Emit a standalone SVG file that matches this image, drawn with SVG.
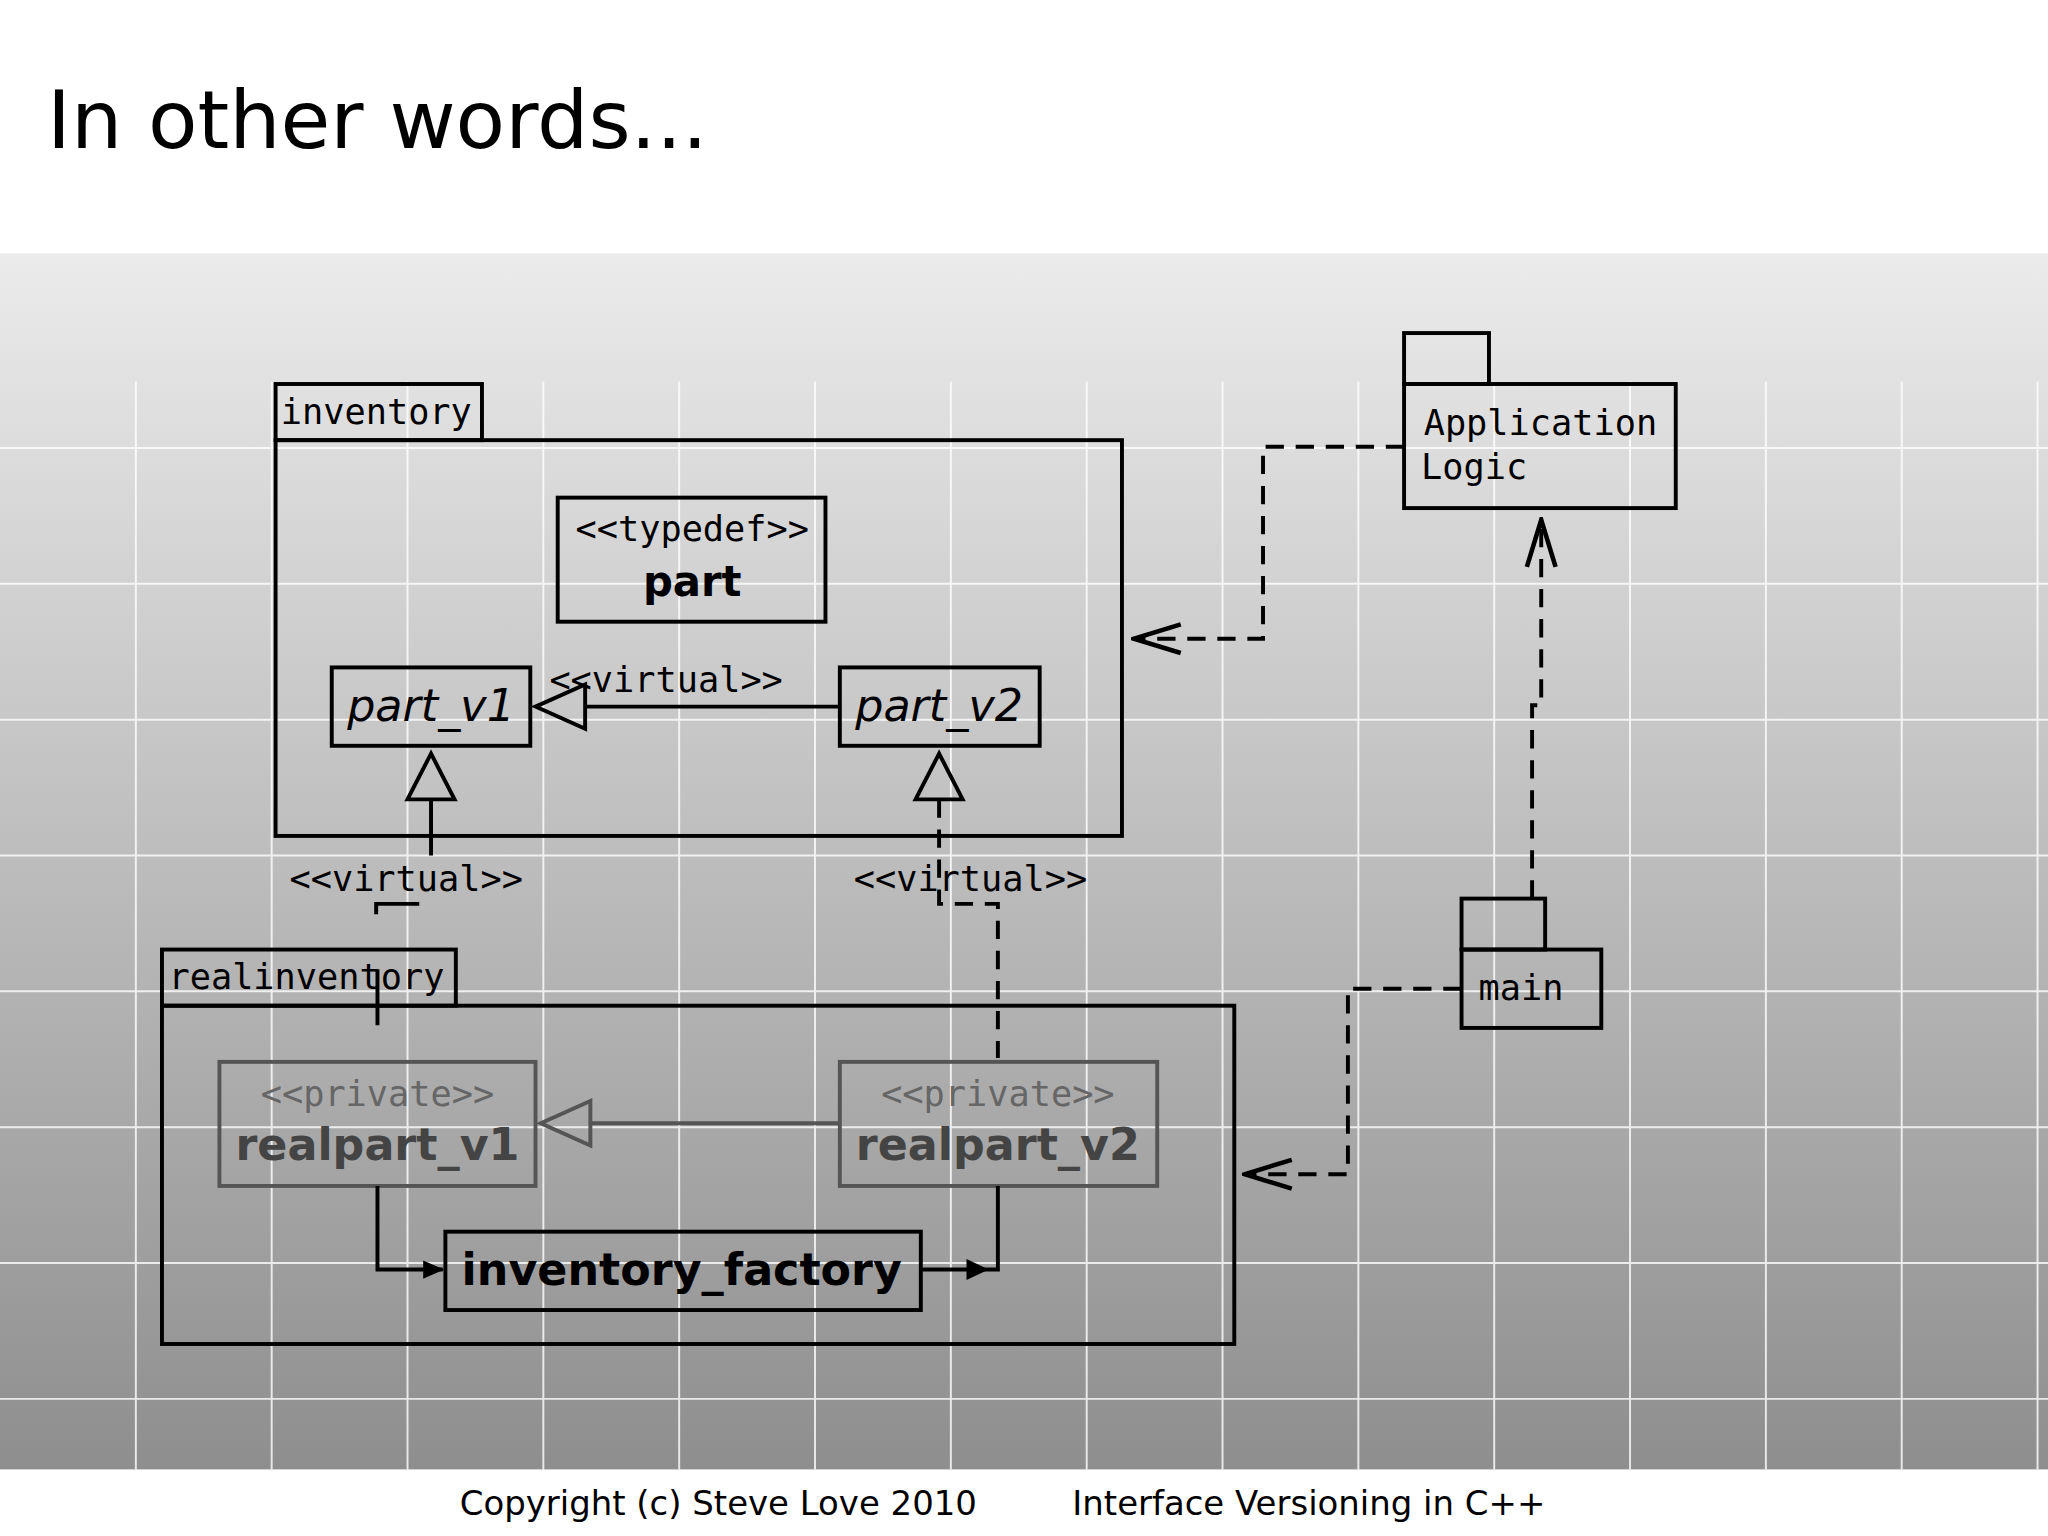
<svg xmlns="http://www.w3.org/2000/svg" width="2048" height="1536" viewBox="0 0 2048 1536">
<defs>
<linearGradient id="bg" x1="0" y1="0" x2="0" y2="1"><stop offset="0" stop-color="#ebebeb"/><stop offset="1" stop-color="#8e8e8e"/></linearGradient>
<marker id="open" viewBox="0 0 40 30" refX="38" refY="15" markerWidth="40" markerHeight="30" markerUnits="userSpaceOnUse" orient="auto"><path d="M2,4 L38,15 L2,26" fill="none" stroke="#000" stroke-width="3.5"/></marker>
<marker id="fill" viewBox="0 0 16 16" refX="15" refY="8" markerWidth="16" markerHeight="16" markerUnits="userSpaceOnUse" orient="auto"><path d="M0,1 L16,8 L0,15 Z" fill="#000"/></marker>
</defs>
<style>
.b{fill:none;stroke:#000;stroke-width:3}
.g{fill:none;stroke:#555;stroke-width:3}
.d{fill:none;stroke:#000;stroke-width:3;stroke-dasharray:14,9}
.m{font-family:"DejaVu Sans Mono",monospace;font-size:27px;fill:#000}
.s{font-family:"DejaVu Sans",sans-serif}
.grid{stroke:#fff;stroke-width:1.5;opacity:0.8}
</style>
<rect width="2048" height="1536" fill="#fff"/>
<g transform="scale(1.30612)">
<text x="36" y="113" class="s" font-size="62">In other words...</text>
<rect x="0" y="194" width="1568" height="931" fill="url(#bg)"/>
<g class="grid">
<path d="M104,292V1125M208,292V1125M312,292V1125M416,292V1125M520,292V1125M624,292V1125M728,292V1125M832,292V1125M936,292V1125M1040,292V1125M1144,292V1125M1248,292V1125M1352,292V1125M1456,292V1125M1560,292V1125"/>
<path d="M0,343H1568M0,447H1568M0,551H1568M0,655H1568M0,759H1568M0,863H1568M0,967H1568M0,1071H1568"/>
</g>
<g id="inventory">
<rect x="211" y="294" width="158" height="43" class="b"/>
<text x="215" y="325" class="m">inventory</text>
<rect x="211" y="337" width="648" height="303" class="b"/>
</g>
<g id="part">
<rect x="427" y="381" width="205" height="95" class="b"/>
<text x="530" y="414" class="m" text-anchor="middle">&lt;&lt;typedef&gt;&gt;</text>
<text x="530" y="456" class="s" font-size="32" font-weight="bold" text-anchor="middle">part</text>
</g>
<g id="part_v1">
<rect x="254" y="511" width="152" height="60" class="b"/>
<text x="330" y="552" class="s" font-size="34" font-style="italic" text-anchor="middle">part_v1</text>
</g>
<g id="part_v2">
<rect x="643" y="511" width="153" height="60" class="b"/>
<text x="719" y="552" class="s" font-size="34" font-style="italic" text-anchor="middle">part_v2</text>
</g>
<g id="realinventory">
<rect x="124" y="727" width="225" height="43" class="b"/>
<text x="129" y="757" class="m">realinventory</text>
<rect x="124" y="770" width="821" height="259" class="b"/>
</g>
<g id="realpart_v1">
<rect x="168" y="813" width="242" height="95" class="g"/>
<text x="289" y="847" class="m" style="fill:#666" text-anchor="middle">&lt;&lt;private&gt;&gt;</text>
<text x="289" y="888" class="s" font-size="34" font-weight="bold" fill="#444" text-anchor="middle">realpart_v1</text>
</g>
<g id="realpart_v2">
<rect x="643" y="813" width="243" height="95" class="g"/>
<text x="764" y="847" class="m" style="fill:#666" text-anchor="middle">&lt;&lt;private&gt;&gt;</text>
<text x="764" y="888" class="s" font-size="34" font-weight="bold" fill="#444" text-anchor="middle">realpart_v2</text>
</g>
<g id="inventory_factory">
<rect x="341" y="943" width="364" height="60" class="b"/>
<text x="522" y="984" class="s" font-size="34" font-weight="bold" text-anchor="middle">inventory_factory</text>
</g>
<g id="app_logic">
<rect x="1075" y="255" width="65" height="39" class="b"/>
<rect x="1075" y="294" width="208" height="95" class="b"/>
<text x="1090" y="333" class="m" font-size="28">Application</text>
<text x="1088" y="367" class="m" font-size="28">Logic</text>
</g>
<g id="main">
<rect x="1119" y="688" width="64" height="39" class="b"/>
<rect x="1119" y="727" width="107" height="60" class="b"/>
<text x="1132" y="766" class="m" font-size="28">main</text>
</g>
<g id="connectors">
<path d="M643,541H448" class="b"/>
<path d="M410,541L448,524V558Z" fill="none" stroke="#000" stroke-width="3"/>
<text x="510" y="530" class="m" text-anchor="middle">&lt;&lt;virtual&gt;&gt;</text>
<path d="M330,577L312,612H348Z" fill="none" stroke="#000" stroke-width="3"/>
<path d="M330,612V655" class="b"/>
<text x="311" y="682" class="m" text-anchor="middle">&lt;&lt;virtual&gt;&gt;</text>
<path d="M321,692H288V700M289,742V785" class="b"/>
<path d="M719,577L701,612H737Z" fill="none" stroke="#000" stroke-width="3"/>
<path d="M719,612V692H764V810" class="d"/>
<text x="743" y="682" class="m" text-anchor="middle">&lt;&lt;virtual&gt;&gt;</text>
<path d="M643,860H452" class="g"/>
<path d="M414,860L452,843V877Z" fill="none" stroke="#555" stroke-width="3"/>
<path d="M289,908V972H339" class="b" marker-end="url(#fill)"/>
<path d="M705,972H764V908" class="b"/>
<path d="M740,964L757,972L740,980Z" fill="#000"/>
<path d="M1075,342H967V489H868" class="d" marker-end="url(#open)"/>
<path d="M1173,688V540H1180V398" class="d" marker-end="url(#open)"/>
<path d="M1119,757H1032V899H953" class="d" marker-end="url(#open)"/>
</g>
<text x="550" y="1160" class="s" font-size="26" text-anchor="middle">Copyright (c) Steve Love 2010</text>
<text x="821" y="1160" class="s" font-size="26">Interface Versioning in C++</text>
</g>
</svg>
